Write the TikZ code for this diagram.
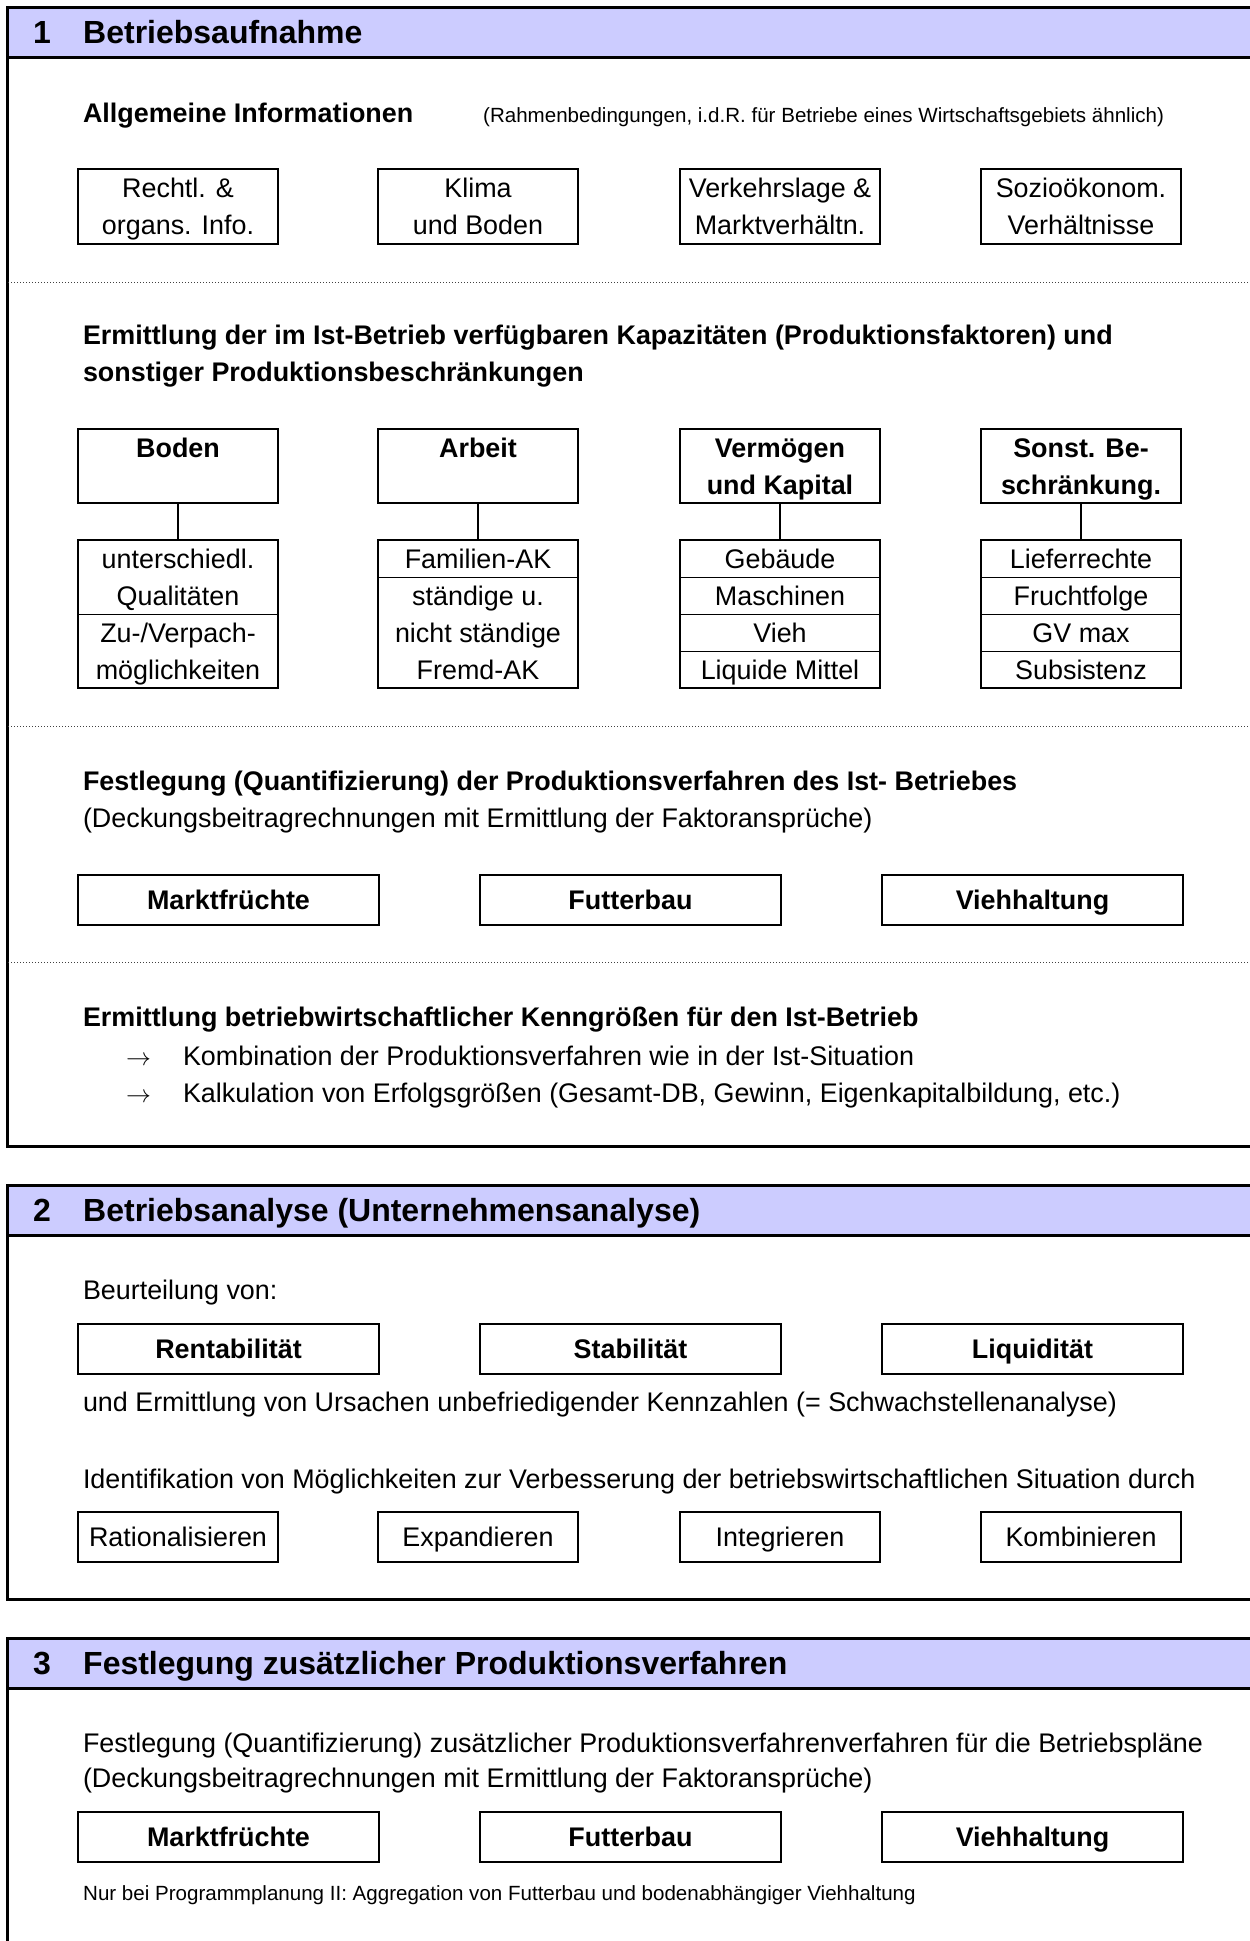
\documentclass[tikz,border=0pt]{standalone}
\usepackage{fontspec}
\setmainfont{Liberation Sans}
\definecolor{hdrfill}{RGB}{204,204,255}
\newcommand\fsN{\fontsize{26.9}{37}\selectfont}
\newcommand\fsH{\fontsize{32}{38}\selectfont\bfseries}
\newcommand\fsS{\fontsize{20.55}{25}\selectfont}
\begin{document}
\begin{tikzpicture}[x=1pt,y=-1pt,
  frame/.style={line width=3pt},
  dotsep/.style={line width=1pt, dash pattern=on 1pt off 2pt, black!75},
  box/.style={draw, line width=2.6pt, inner sep=0pt, outer sep=0pt, anchor=north west},
  txt/.style={inner sep=0pt, outer sep=0pt, font=\fsN, text height=19pt, text depth=0pt},
  btxt/.style={txt, font=\fsN\bfseries},
  lt/.style={txt, anchor=west},
  blt/.style={btxt, anchor=west},
  head/.style={inner sep=0pt, font=\fsH, text height=23pt, text depth=0pt, anchor=west},
  small/.style={inner sep=0pt, font=\fsS, text height=15pt, text depth=0pt, anchor=west},
  arr/.style={inner sep=0pt, outer sep=0pt, anchor=west, font=\fontsize{23}{26}\selectfont},
  cellsep/.style={line width=1pt},
  conn/.style={line width=2pt}]
\useasboundingbox (0,0) rectangle (1250,1941);
\clip (0,0) rectangle (1250,1941);

% ---------- section frames with header bands ----------
\fill[hdrfill] (7,7) rectangle (1260,57);
\draw[frame] (1260,7) -- (7,7) -- (7,1146) -- (1260,1146);
\draw[frame] (7,57) -- (1260,57);

\fill[hdrfill] (7,1185) rectangle (1260,1235);
\draw[frame] (1260,1185) -- (7,1185) -- (7,1599) -- (1260,1599);
\draw[frame] (7,1235) -- (1260,1235);

\fill[hdrfill] (7,1638) rectangle (1260,1688);
\draw[frame] (1260,1638) -- (7,1638) -- (7,1960);
\draw[frame] (7,1688) -- (1260,1688);

% dotted separators in section 1
\draw[dotsep] (8,282) -- (1250,282);
\draw[dotsep] (8,726) -- (1250,726);
\draw[dotsep] (8,962) -- (1250,962);

% ---------- section 1 ----------
\node[head] (num1) at (33,32) {1};
\node[head] (ttl1) at (83,32) {Betriebsaufnahme};

\node[blt] (allg) at (83,113) {Allgemeine Informationen};
\node[small] (rahmen) at (483,115) {(Rahmenbedingungen, i.d.R. für Betriebe eines Wirtschaftsgebiets ähnlich)};

\foreach \n/\x/\a/\b in {i1/78/{Rechtl. \&}/{organs. Info.},
                         i2/378/{Klima}/{und Boden},
                         i3/680/{Verkehrslage \&}/{Marktverhältn.},
                         i4/981/{Sozioökonom.}/{Verhältnisse}}{
  \node[box, minimum width=200pt, minimum height=75pt] (\n) at (\x,169) {};
  \node[txt] (\n a) at ([yshift=-18.5]\n.north) {\a};
  \node[txt] (\n b) at ([yshift=-55.5]\n.north) {\b};
}

\node[blt] (kap1) at (83,335) {Ermittlung der im Ist-Betrieb verfügbaren Kapazitäten (Produktionsfaktoren) und};
\node[blt] (kap2) at (83,372) {sonstiger Produktionsbeschränkungen};

% factor boxes with their detail lists
\foreach \n/\x/\a/\b in {f1/78/{Boden}/{},
                         f2/378/{Arbeit}/{},
                         f3/680/{Vermögen}/{und Kapital},
                         f4/981/{Sonst. Be-}/{schränkung.}}{
  \node[box, minimum width=200pt, minimum height=74pt] (\n) at (\x,429) {};
  \node[btxt] (\n a) at ([yshift=-18.5]\n.north) {\a};
  \node[btxt] (\n b) at ([yshift=-55.5]\n.north) {\b};
  \node[box, minimum width=200pt, minimum height=148pt] (\n l) at (\x,540) {};
  \draw[conn] (\n.south) -- (\n l.north);
}
\foreach \n/\a/\b/\c/\d in {f1/{unterschiedl.}/{Qualitäten}/{Zu-/Verpach-}/{möglichkeiten},
                            f2/{Familien-AK}/{ständige u.}/{nicht ständige}/{Fremd-AK},
                            f3/{Gebäude}/{Maschinen}/{Vieh}/{Liquide Mittel},
                            f4/{Lieferrechte}/{Fruchtfolge}/{GV max}/{Subsistenz}}{
  \node[txt] (\n l1) at ([yshift=-18.5]\n l.north) {\a};
  \node[txt] (\n l2) at ([yshift=-55.5]\n l.north) {\b};
  \node[txt] (\n l3) at ([yshift=-92.5]\n l.north) {\c};
  \node[txt] (\n l4) at ([yshift=-129.5]\n l.north) {\d};
}
\draw[cellsep] ([yshift=-74]f1l.north west) -- ([yshift=-74]f1l.north east);
\draw[cellsep] ([yshift=-37]f2l.north west) -- ([yshift=-37]f2l.north east);
\foreach \n in {f3,f4}{
  \foreach \k in {37,74,111}{
    \draw[cellsep] ([yshift=-\k]\n l.north west) -- ([yshift=-\k]\n l.north east);
  }
}

\node[blt] (fest1) at (83,781) {Festlegung (Quantifizierung) der Produktionsverfahren des Ist- Betriebes};
\node[lt] (db1) at (83,818) {(Deckungsbeitragrechnungen mit Ermittlung der Faktoransprüche)};
\foreach \n/\x/\t in {p1/78/Marktfrüchte, p2/480/Futterbau, p3/882/Viehhaltung}{
  \node[box, btxt, minimum width=301pt, minimum height=50pt] (\n) at (\x,875) {\t};
}

\node[blt] (kenn) at (83,1017) {Ermittlung betriebwirtschaftlicher Kenngrößen für den Ist-Betrieb};
\node[arr] (ar1) at (126,1061) {$\rightarrow$};
\node[lt] (kom) at (183,1056) {Kombination der Produktionsverfahren wie in der Ist-Situation};
\node[arr] (ar2) at (126,1098) {$\rightarrow$};
\node[lt] (kal) at (183,1093) {Kalkulation von Erfolgsgrößen (Gesamt-DB, Gewinn, Eigenkapitalbildung, etc.)};

% ---------- section 2 ----------
\node[head] (num2) at (33,1210) {2};
\node[head] (ttl2) at (83,1210) {Betriebsanalyse (Unternehmensanalyse)};

\node[lt] (beur) at (83,1290) {Beurteilung von:};
\foreach \n/\x/\t in {r1/78/Rentabilität, r2/480/Stabilität, r3/882/Liquidität}{
  \node[box, btxt, minimum width=301pt, minimum height=50pt] (\n) at (\x,1324) {\t};
}
\node[lt] (urs) at (83,1402) {und Ermittlung von Ursachen unbefriedigender Kennzahlen (= Schwachstellenanalyse)};
\node[lt] (ident) at (83,1479) {Identifikation von Möglichkeiten zur Verbesserung der betriebswirtschaftlichen Situation durch};
\foreach \n/\x/\t in {m1/78/Rationalisieren, m2/378/Expandieren, m3/680/Integrieren, m4/981/Kombinieren}{
  \node[box, txt, minimum width=200pt, minimum height=50pt] (\n) at (\x,1512) {\t};
}

% ---------- section 3 ----------
\node[head] (num3) at (33,1663) {3};
\node[head] (ttl3) at (83,1663) {Festlegung zusätzlicher Produktionsverfahren};

\node[lt] (fest3) at (83,1743) {Festlegung (Quantifizierung) zusätzlicher Produktionsverfahrenverfahren für die Betriebspläne};
\node[lt] (db3) at (83,1778) {(Deckungsbeitragrechnungen mit Ermittlung der Faktoransprüche)};
\foreach \n/\x/\t in {q1/78/Marktfrüchte, q2/480/Futterbau, q3/882/Viehhaltung}{
  \node[box, btxt, minimum width=301pt, minimum height=50pt] (\n) at (\x,1812) {\t};
}
\node[small] (nur) at (83,1893) {Nur bei Programmplanung II: Aggregation von Futterbau und bodenabhängiger Viehhaltung};
\end{tikzpicture}
\end{document}
